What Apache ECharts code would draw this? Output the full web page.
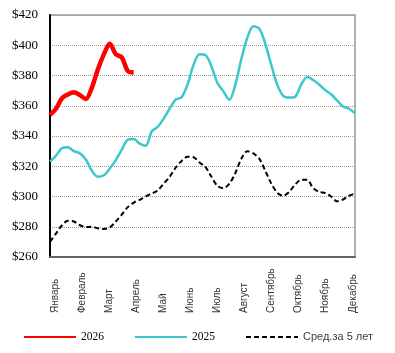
<!DOCTYPE html>
<html>
<head>
    <meta charset="utf-8">
    <title>Цены</title>
    <script src="https://cdn.jsdelivr.net/npm/echarts@6/dist/echarts.min.js"></script>
    <style>
        html, body { margin: 0; padding: 0; background: #fff; }
        #chart { width: 395px; height: 353px; }
    </style>
</head>
<body>
<div id="chart"></div>
<script type="text/javascript">
    // месяцы для подписей оси X
    var months = ['Январь', 'Февраль', 'Март', 'Апрель', 'Май', 'Июнь',
        'Июль', 'Август', 'Сентябрь', 'Октябрь', 'Ноябрь', 'Декабрь'];
    // недели года (категории)
    var weeks = [];
    for (var i = 1; i <= 52; i++) weeks.push(String(i));

    var yTicks = [260, 280, 300, 320, 340, 360, 380, 400, 420];

    // 2026 (по неделям, пока только начало года)
    var y2026 = [354, 358, 365, 367.5, 369, 367, 364.5, 372, 384, 394, 401, 394, 392, 383, 382];

    // 2025
    var y2025 = [323, 327, 332, 332.5, 330, 328.5, 324.5, 317, 313, 314,
        318.5, 324, 331, 337.5, 338, 335, 333.5, 343, 346, 351.5,
        358, 364, 365.6, 374, 387, 394, 393.5, 386, 375, 369.5,
        364, 374, 391, 405, 412.6, 411, 401, 387, 374, 366.5,
        365.4, 366, 374, 379, 377, 374, 370.4, 367.6, 363.5, 359.5,
        358, 355];

    // среднее за 5 лет
    var avg5 = [270, 275.5, 281, 284, 283.5, 281, 279.8, 280, 279, 278.5,
        279.5, 283.5, 288, 293, 296, 297.8, 300, 302, 304, 308.5,
        313, 319, 323.5, 326.3, 326, 322.5, 319.5, 313, 307, 305.5,
        308.5, 315.5, 325, 330, 328.5, 325, 317, 308.5, 302.5, 300.5,
        303, 308, 311, 311, 305.5, 303, 302.3, 300, 296.8, 298,
        300.5, 302];

    var avgName = 'Сред.за 5 лет';

    var myChart = echarts.init(document.getElementById('chart'));

    myChart.setOption({
        animation: false,
        backgroundColor: '#fff',
        grid: {
            left: 50, right: 40, top: 15, bottom: 96,
            show: true, borderColor: '#999', borderWidth: 1.5
        },
        legend: {
            left: 18, top: 326, width: 380,
            itemWidth: 52, itemHeight: 14, itemGap: 30,
            data: ['2026', '2025', avgName],
            // только линия, без кружка
            itemStyle: { opacity: 0, borderWidth: 0 },
            formatter: function (name) {
                return name === avgName ? '{s|' + name + '}' : '{t|' + name + '}';
            },
            textStyle: {
                rich: {
                    t: { fontFamily: 'Liberation Serif', fontSize: 11.5, color: '#000' },
                    s: { fontFamily: 'Liberation Sans', fontSize: 11, color: '#404040' }
                }
            }
        },
        xAxis: [
            {
                type: 'category',
                data: weeks,
                boundaryGap: false,
                axisLine: { show: true, lineStyle: { color: '#666', width: 2 } },
                axisTick: { show: false },
                axisLabel: { show: false },
                splitLine: { show: false }
            },
            {
                type: 'value',
                position: 'bottom',
                min: -0.18,
                max: 11.08,
                axisLine: { show: false },
                axisTick: { show: false },
                splitLine: { show: false },
                axisLabel: {
                    customValues: months.map(function (m, i) { return i; }),
                    rotate: 90,
                    align: 'left',
                    margin: 56,
                    fontFamily: 'Liberation Sans',
                    fontSize: 10,
                    color: '#333',
                    formatter: function (v) { return months[Math.round(v)]; }
                }
            }
        ],
        yAxis: {
            type: 'value',
            min: yTicks[0],
            max: yTicks[yTicks.length - 1],
            interval: 20,
            axisLine: { show: true, onZero: false, lineStyle: { color: '#000', width: 2 } },
            axisTick: { show: false },
            axisLabel: {
                margin: 12,
                fontFamily: 'Liberation Serif',
                fontSize: 13,
                color: '#000',
                formatter: function (v) { return '$' + v; }
            },
            splitLine: { lineStyle: { color: '#999', type: 'dotted', width: 1 } }
        },
        series: [
            {
                name: avgName,
                type: 'line',
                data: avg5,
                smooth: 0.3,
                showSymbol: false,
                symbol: 'none',
                lineStyle: { color: '#000', width: 2, type: [5, 3] },
                itemStyle: { color: '#000' },
                z: 2
            },
            {
                name: '2025',
                type: 'line',
                data: y2025,
                smooth: 0.3,
                showSymbol: false,
                symbol: 'none',
                lineStyle: { color: '#3cc8c8', width: 2.5 },
                itemStyle: { color: '#3cc8c8' },
                z: 3
            },
            {
                name: '2026',
                type: 'line',
                data: y2026,
                smooth: 0.3,
                showSymbol: false,
                symbol: 'none',
                lineStyle: { color: '#ff0000', width: 4.5 },
                itemStyle: { color: '#ff0000' },
                z: 4
            }
        ]
    });
</script>
</body>
</html>
